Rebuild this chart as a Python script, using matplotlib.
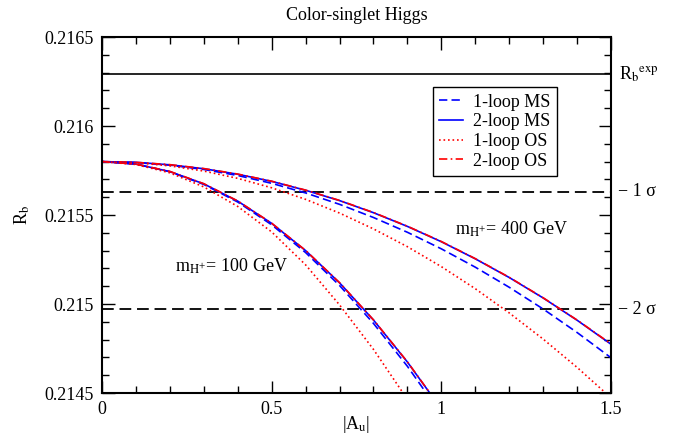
import matplotlib
matplotlib.use("Agg")
import matplotlib.pyplot as plt
import numpy as np

plt.rcParams['font.family'] = ['Liberation Serif', 'DejaVu Serif']
plt.rcParams['mathtext.fontset'] = 'stix'

# ---- data ----
x400 = [0.0, 0.1, 0.2, 0.3, 0.4, 0.5, 0.6, 0.7, 0.8, 0.9, 1.0, 1.1, 1.2, 1.3, 1.4, 1.5]
r400_1loop_ms = [0.215800, 0.215795, 0.215780, 0.215756, 0.215722, 0.215678, 0.215624, 0.215560,
                 0.215486, 0.215403, 0.215310, 0.215207, 0.215094, 0.214972, 0.214840, 0.214698]
r400_2loop_ms = [0.215800, 0.215796, 0.215782, 0.215760, 0.215729, 0.215689, 0.215639, 0.215581,
                 0.215513, 0.215436, 0.215350, 0.215254, 0.215149, 0.215034, 0.214909, 0.214774]
r400_1loop_os = [0.215800, 0.215794, 0.215776, 0.215747, 0.215706, 0.215653, 0.215588, 0.215511,
                 0.215422, 0.215322, 0.215210, 0.215086, 0.214950, 0.214803, 0.214644, 0.214473]
r400_2loop_os = [0.215800, 0.215796, 0.215783, 0.215761, 0.215730, 0.215690, 0.215640, 0.215582,
                 0.215514, 0.215437, 0.215351, 0.215255, 0.215150, 0.215035, 0.214910, 0.214776]

x100 = [0.0, 0.1, 0.2, 0.3, 0.4, 0.5, 0.6, 0.7, 0.8, 0.9, 1.0]
r100_1loop_ms = [0.215800, 0.215786, 0.215743, 0.215672, 0.215573, 0.215445, 0.215289, 0.215104,
                 0.214891, 0.214650, 0.214380]
r100_2loop_ms = [0.215800, 0.215786, 0.215744, 0.215675, 0.215578, 0.215453, 0.215300, 0.215119,
                 0.214910, 0.214674, 0.214410]
r100_1loop_os = [0.215800, 0.215784, 0.215737, 0.215658, 0.215548, 0.215405, 0.215220, 0.214995,
                 0.214745, 0.214464, 0.214150]
r100_2loop_os = [0.215800, 0.215786, 0.215745, 0.215676, 0.215579, 0.215454, 0.215301, 0.215120,
                 0.214911, 0.214675, 0.214411]

rb_exp = 0.21629
rb_1sigma = 0.21563
rb_2sigma = 0.21497

legend_labels = ['1-loop MS', '2-loop MS', '1-loop OS', '2-loop OS']

fig = plt.figure(figsize=(6.86, 4.46), dpi=100)
ax = fig.add_axes([0.1487, 0.1188, 0.7420, 0.7982])

FS = 13
blue = '#0000ff'
red = '#ff0000'
lw = 1.2

ax.axhline(rb_exp, color='black', lw=1.2)
ax.axhline(rb_1sigma, color='black', lw=1.3, dashes=(6.5, 3.2))
ax.axhline(rb_2sigma, color='black', lw=1.3, dashes=(6.5, 3.2))

dash_ms = (5, 2.5)
dot_os = (1, 1.7)
dashdot_os = (5, 2, 1, 2)

l1, = ax.plot(x400, r400_1loop_ms, color=blue, lw=lw, dashes=dash_ms)
l2, = ax.plot(x400, r400_2loop_ms, color=blue, lw=lw)
l3, = ax.plot(x400, r400_1loop_os, color=red, lw=lw, dashes=dot_os)
l4, = ax.plot(x400, r400_2loop_os, color=red, lw=lw, dashes=dashdot_os)

ax.plot(x100, r100_1loop_ms, color=blue, lw=lw, dashes=dash_ms)
ax.plot(x100, r100_2loop_ms, color=blue, lw=lw)
ax.plot(x100, r100_1loop_os, color=red, lw=lw, dashes=dot_os)
ax.plot(x100, r100_2loop_os, color=red, lw=lw, dashes=dashdot_os)

ax.set_xlim(0, 1.5)
ax.set_ylim(0.2145, 0.2165)
ax.set_xticks([0, 0.5, 1.0, 1.5])
ax.set_xticklabels(['0', '0.5', '1', '1.5'])
ax.set_xticks(np.arange(0, 1.5001, 0.1), minor=True)
ax.set_yticks([0.2145, 0.2150, 0.2155, 0.2160, 0.2165])
ax.set_yticklabels(['0.2145', '0.215', '0.2155', '0.216', '0.2165'])
ax.set_yticks(np.arange(0.2145, 0.21651, 0.0001), minor=True)

ax.tick_params(which='both', direction='in', top=True, right=True, labelsize=FS, width=1.0)
ax.tick_params(which='major', length=9, pad=6)
ax.tick_params(which='minor', length=5)
for s in ax.spines.values():
    s.set_linewidth(1.5)

ax.set_title('Color-singlet Higgs', fontsize=FS, pad=12)
ax.set_xlabel(r'|A$_{\rm u}$|', fontsize=FS, labelpad=-3)
ax.set_ylabel(r'R$_{\rm b}$', fontsize=FS, labelpad=9)

# right side labels
ax.text(1.523, rb_exp, r'R$_{\rm b}$$^{\rm exp}$', fontsize=FS, va='center', ha='left',
        clip_on=False)
ax.text(1.52, rb_1sigma, '\u2212 1 \u03c3', fontsize=FS, va='center', ha='left', clip_on=False)
ax.text(1.52, rb_2sigma, '\u2212 2 \u03c3', fontsize=FS, va='center', ha='left', clip_on=False)

ax.text(0.215, 0.21521, r'm$_{\rm H^{+}}$= 100 GeV', fontsize=FS, va='center', ha='left')
ax.text(1.04, 0.21542, r'm$_{\rm H^{+}}$= 400 GeV', fontsize=FS, va='center', ha='left')

leg = ax.legend([l1, l2, l3, l4], legend_labels, loc='upper left', bbox_to_anchor=(0.650, 0.859),
                borderaxespad=0, fontsize=FS, fancybox=False, edgecolor='black', framealpha=1,
                handlelength=1.3, handletextpad=0.6, labelspacing=0.15, borderpad=0.35)
leg.get_frame().set_linewidth(1.0)

fig.savefig('out.png', dpi=100)
